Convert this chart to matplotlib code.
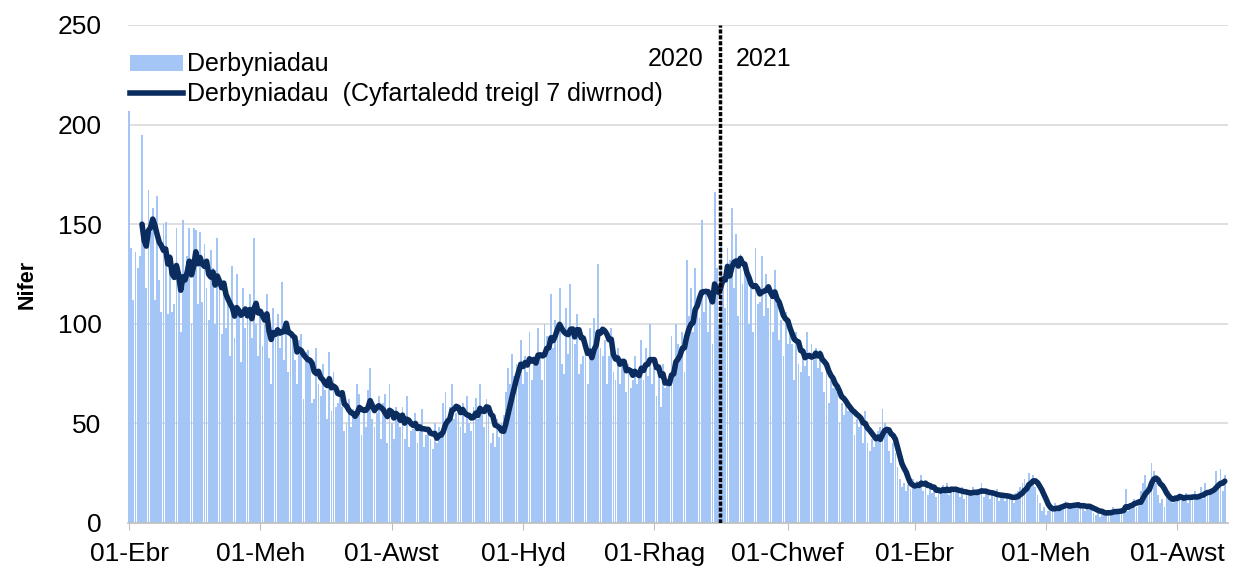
import numpy as np
import pandas as pd
import matplotlib
matplotlib.use("Agg")
import matplotlib.pyplot as plt
from matplotlib.patches import Patch
from matplotlib.lines import Line2D

plt.rcParams['font.family'] = ['Liberation Sans Narrow', 'Liberation Sans', 'DejaVu Sans']

# ── Data: daily admissions from 01 Apr 2020 (one row = one week) ────────────
start_date = "2020-04-01"
derbyniadau = [
    207, 138, 112, 136, 128, 134, 195,
    150, 118, 167, 146, 158, 112, 164,
    122, 106, 150, 151, 105, 135, 106,
    110, 148, 118, 96, 152, 124, 134,
    148, 100, 148, 147, 110, 146, 111,
    140, 118, 102, 137, 128, 100, 143,
    122, 95, 118, 98, 110, 84, 129,
    93, 125, 108, 81, 118, 98, 105,
    115, 93, 143, 100, 84, 104, 89,
    100, 115, 83, 70, 108, 98, 105,
    88, 121, 82, 100, 76, 95, 96,
    82, 70, 92, 95, 62, 86, 87,
    80, 60, 62, 88, 70, 64, 80,
    67, 52, 86, 56, 76, 58, 60,
    64, 58, 46, 50, 62, 48, 57,
    54, 70, 65, 44, 58, 48, 67,
    78, 52, 48, 55, 64, 42, 60,
    65, 40, 70, 50, 42, 58, 53,
    48, 58, 42, 64, 38, 46, 47,
    55, 40, 48, 57, 38, 44, 47,
    42, 37, 50, 40, 48, 45, 60,
    66, 49, 58, 70, 52, 55, 56,
    48, 60, 45, 64, 50, 46, 58,
    63, 52, 70, 55, 48, 62, 56,
    40, 45, 38, 52, 43, 50, 54,
    66, 78, 70, 85, 74, 80, 79,
    92, 70, 84, 76, 96, 72, 84,
    80, 98, 85, 72, 100, 94, 87,
    115, 88, 102, 94, 118, 80, 75,
    108, 85, 120, 96, 90, 105, 75,
    80, 84, 92, 70, 98, 82, 103,
    96, 130, 88, 84, 92, 70, 84,
    98, 76, 72, 88, 70, 80, 83,
    66, 80, 68, 72, 84, 70, 78,
    92, 72, 88, 74, 100, 70, 78,
    64, 74, 58, 80, 68, 72, 74,
    94, 78, 100, 90, 82, 96, 76,
    132, 104, 118, 96, 128, 110, 103,
    152, 106, 118, 96, 112, 90, 166,
    128, 100, 140, 122, 108, 138, 132,
    158, 118, 145, 104, 135, 120, 130,
    128, 100, 122, 96, 138, 110, 111,
    134, 104, 125, 108, 118, 96, 127,
    110, 92, 102, 84, 106, 90, 102,
    90, 72, 96, 80, 76, 88, 79,
    96, 74, 90, 82, 88, 78, 87,
    76, 66, 80, 60, 72, 68, 68,
    66, 50, 60, 54, 62, 56, 58,
    56, 44, 52, 48, 54, 40, 56,
    40, 36, 42, 38, 44, 46, 48,
    57, 50, 46, 36, 30, 40, 35,
    28, 22, 18, 20, 16, 19, 17,
    22, 18, 21, 19, 24, 16, 20,
    14, 18, 15, 19, 13, 17, 16,
    19, 15, 20, 14, 18, 16, 17,
    16, 13, 18, 12, 17, 14, 15,
    18, 14, 17, 15, 20, 13, 15,
    15, 12, 16, 13, 17, 11, 14,
    14, 11, 15, 12, 14, 10, 15,
    16, 18, 20, 22, 19, 25, 20,
    24, 18, 14, 10, 6, 8, 4,
    6, 7, 9, 10, 8, 7, 9,
    8, 11, 9, 7, 10, 8, 10,
    9, 7, 10, 6, 8, 9, 7,
    5, 4, 6, 3, 7, 5, 5,
    6, 4, 8, 5, 7, 6, 6,
    8, 17, 6, 10, 9, 12, 8,
    12, 16, 20, 24, 18, 20, 30,
    26, 20, 14, 10, 12, 8, 15,
    16, 12, 10, 14, 11, 15, 13,
    12, 15, 10, 14, 12, 16, 12,
    14, 18, 12, 20, 15, 17, 16,
    18, 26, 20, 27, 16, 24,
]

tick_dates = ["2020-04-01", "2020-06-01", "2020-08-01", "2020-10-01", "2020-12-01",
              "2021-02-01", "2021-04-01", "2021-06-01", "2021-08-01"]
tick_labels = ["01-Ebr", "01-Meh", "01-Awst", "01-Hyd", "01-Rhag",
               "01-Chwef", "01-Ebr", "01-Meh", "01-Awst"]
year_split = "2021-01-01"

BAR_COLOR = '#a3c6f7'
LINE_COLOR = '#0b2c5f'

# ── Prepare series ────────────────────────────────────────────────────────
s = pd.Series(derbyniadau, index=pd.date_range(start_date, periods=len(derbyniadau), freq='D'))
rolling = s.rolling(7).mean()
x = np.arange(len(s))
t0 = pd.Timestamp(start_date)
tick_pos = [(pd.Timestamp(d) - t0).days for d in tick_dates]
split_pos = (pd.Timestamp(year_split) - t0).days - 0.5

# ── Plot ──────────────────────────────────────────────────────────────────
fig = plt.figure(figsize=(12.39, 5.73), dpi=100)
ax = fig.add_axes([128 / 1239, 1 - 523 / 573, 1100 / 1239, 498 / 573])

ax.bar(x, s.values, width=0.85, color=BAR_COLOR, linewidth=0, zorder=2)
ax.plot(x, rolling.values, color=LINE_COLOR, lw=4, zorder=3,
        solid_joinstyle='round', solid_capstyle='round')

ax.axvline(split_pos, color='black', lw=2.5, linestyle=(0, (1.2, 0.5)), zorder=4)
ax.text(split_pos - 7.5, 233, '2020', ha='right', va='center', fontsize=18)
ax.text(split_pos + 7.5, 233, '2021', ha='left', va='center', fontsize=18)

ax.set_xlim(-0.5, len(s) + 0.5)
ax.set_ylim(0, 250)
ax.set_yticks(np.arange(0, 251, 50))
ax.set_xticks(tick_pos)
ax.set_xticklabels(tick_labels)
ax.tick_params(axis='x', labelsize=19, length=5, color='#bfbfbf', pad=9)
ax.tick_params(axis='y', labelsize=19, length=0, pad=19)

ax.grid(axis='y', color='#d9d9d9', lw=1.2, zorder=0)
ax.set_axisbelow(True)
for side in ['top', 'right', 'left']:
    ax.spines[side].set_visible(False)
ax.spines['bottom'].set_color('#bfbfbf')
ax.spines['bottom'].set_linewidth(1.2)

ax.set_ylabel('Nifer', fontsize=15.5, fontweight='bold', va='center')
ax.yaxis.set_label_coords(-0.092, 0.48)

handles = [
    Patch(facecolor=BAR_COLOR, edgecolor='none', label='Derbyniadau'),
    Line2D([0], [0], color=LINE_COLOR, lw=4, label='Derbyniadau  (Cyfartaledd treigl 7 diwrnod)'),
]
ax.legend(handles=handles, loc='upper left', bbox_to_anchor=(0.002, 0.945),
          frameon=False, fontsize=18, handlelength=2.1, handleheight=0.6,
          handletextpad=0.18, labelspacing=0.22, borderaxespad=0.0, borderpad=0.0)

fig.savefig('out.png', dpi=100)
